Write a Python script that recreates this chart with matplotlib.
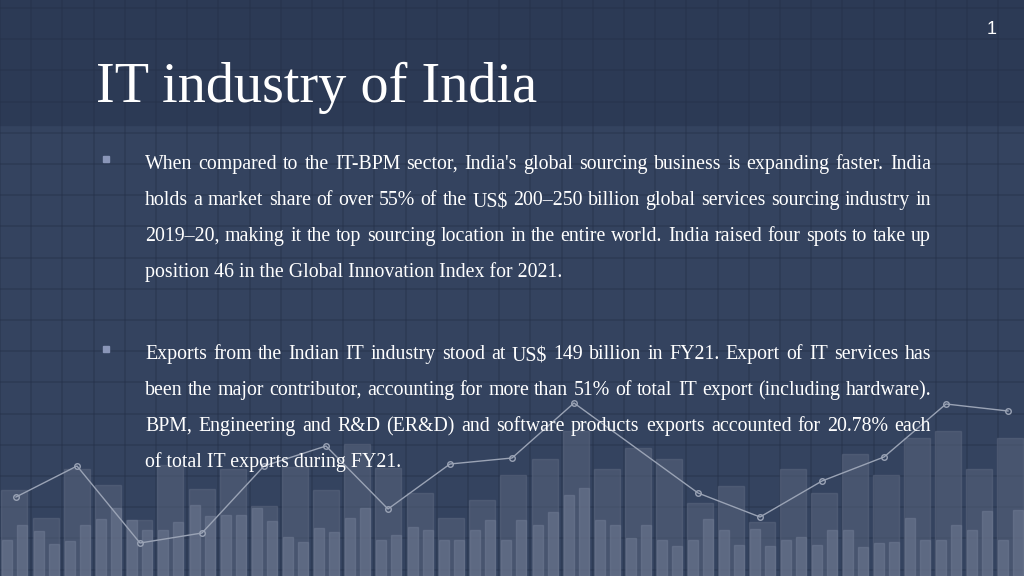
import matplotlib
matplotlib.use("Agg")
import matplotlib.pyplot as plt
import numpy as np

back_x = [14,46,77,108,139,170,202,233,264,295,326,357,388,420,451,482,513,545,576,607,638,669,700,731,762,793,824,855,886,917,948,979,1010]
back_top = [490,518,469,485,520,465,489,469,506,467,490,444,468,493,518,500,475,459,431,469,448,459,503,486,522,469,493,454,475,438,431,469,438]
front_top_a = [540,531,541,519,520,530,505,515,508,537,528,518,540,527,540,530,540,525,495,520,538,540,540,530,529,540,545,530,543,518,540,530,540]
front_top_b = [525,544,525,508,530,522,516,515,521,542,532,508,535,530,540,520,520,512,488,525,525,546,519,545,546,537,530,547,542,540,525,511,510]
line_x = [16,77,140,202,264,326,388,450,512,574,698,760,822,884,946,1008]
line_y = [497,466,543,533,466,446,509,464,458,403,493,517,481,457,404,411]

title = "IT industry of India"
para1 = ["When compared to the IT-BPM sector, India's global sourcing business is expanding faster. India",
         "holds a market share of over 55% of the US$ 200\u2013250 billion global services sourcing industry in",
         "2019\u201320, making it the top sourcing location in the entire world. India raised four spots to take up",
         "position 46 in the Global Innovation Index for 2021."]
para2 = ["Exports from the Indian IT industry stood at US$ 149 billion in FY21. Export of IT services has",
         "been the major contributor, accounting for more than 51% of total IT export (including hardware).",
         "BPM, Engineering and R&D (ER&D) and software products exports accounted for 20.78% each",
         "of total IT exports during FY21."]

FS = 14.3
fig = plt.figure(figsize=(10.24, 5.76), dpi=100)
ax = fig.add_axes([0, 0, 1, 1])
ax.set_xlim(0, 1024); ax.set_ylim(576, 0); ax.axis("off")
ax.add_patch(plt.Rectangle((0, 0), 1024, 576, color="#34435f", zorder=0))
ax.add_patch(plt.Rectangle((0, 0), 1024, 125, color="#2c3a55", zorder=0.1))
for gx in np.arange(0, 1024, 31.2):
    ax.plot([gx, gx], [0, 576], color="#253149", lw=1.2, alpha=0.45, zorder=0.2)
for gy in np.arange(8, 576, 31.2):
    ax.plot([0, 1024], [gy, gy], color="#253149", lw=1.2, alpha=0.45, zorder=0.2)
for x, t in zip(back_x, back_top):
    ax.add_patch(plt.Rectangle((x - 13, t), 26, 576 - t, color="#5d6880", alpha=0.5, zorder=1))
for x, a, b in zip(back_x, front_top_a, front_top_b):
    ax.add_patch(plt.Rectangle((x - 12, a), 10, 576 - a, color="#6f7a92", alpha=0.55, zorder=2))
    ax.add_patch(plt.Rectangle((x + 3, b), 10, 576 - b, color="#6f7a92", alpha=0.55, zorder=2))
ax.plot(line_x, line_y, color="#9aa3b5", lw=1, marker="o", ms=4, mfc="none", mec="#9aa3b5", zorder=3)

ax.text(96, 88, title, fontsize=40.5, family="Liberation Serif", color="white", va="center", zorder=5)
ax.text(992, 30, "1", fontsize=13, family="Liberation Sans", color="white", ha="center", va="center", zorder=5)

fig.canvas.draw()
r = fig.canvas.get_renderer()
def width(s):
    t = ax.text(0, 0, s, fontsize=FS, family="Liberation Serif", parse_math=False)
    w = t.get_window_extent(r).width
    t.remove()
    return w
left, right = 145, 931
for para, y0 in ((para1, 163), (para2, 353)):
    ax.add_patch(plt.Rectangle((103, y0 - 7), 6, 6, color="#8a96b8", zorder=5))
    for i, line in enumerate(para):
        y = y0 + i * 36 + 6
        if i == len(para) - 1:
            ax.text(left, y, line, fontsize=FS, family="Liberation Serif", color="white",
                    va="baseline", zorder=5, parse_math=False)
            continue
        words = line.split(" ")
        ws = [width(w) for w in words]
        gap = (right - left - sum(ws)) / (len(words) - 1)
        x = left
        for w, wd in zip(words, ws):
            dy = 2.5 if "$" in w else 0
            ax.text(x, y + dy, w, fontsize=FS, family="Liberation Serif", color="white",
                    va="baseline", zorder=5, parse_math=False)
            x += wd + gap
fig.savefig("out.png", dpi=100)
